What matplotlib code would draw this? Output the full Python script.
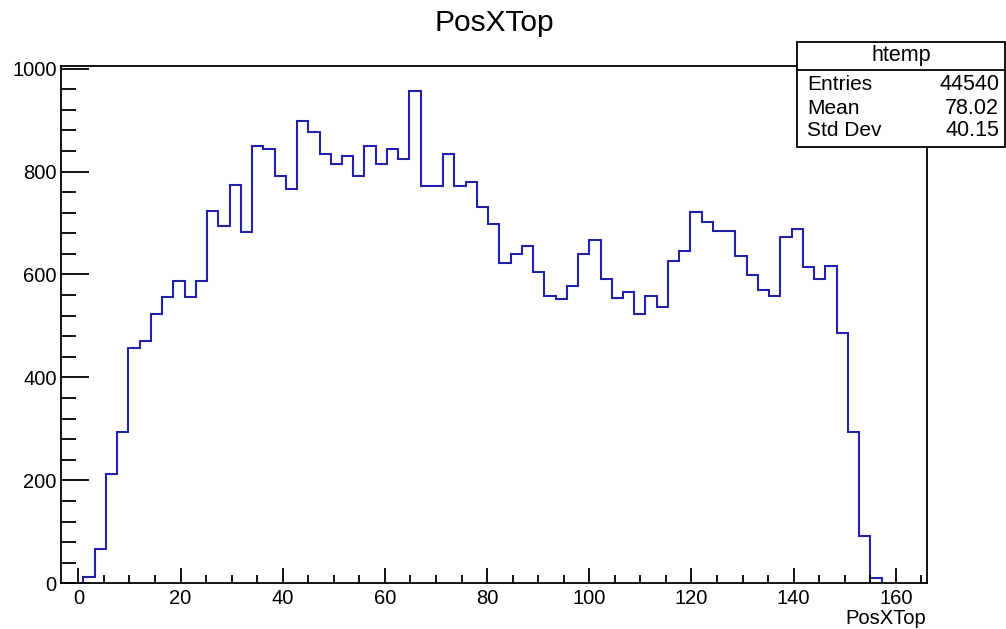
import numpy as np
import matplotlib
matplotlib.use("Agg")
import matplotlib.pyplot as plt
from matplotlib.patches import Rectangle
from matplotlib.lines import Line2D
from matplotlib.ticker import MultipleLocator

plt.rcParams['font.family'] = ['Liberation Sans', 'DejaVu Sans']

# ---- data ----
title = "PosXTop"
x_label = "PosXTop"
axis_min = -3.4
bin_width = 2.2
first_bin_index = 2
counts = [12, 67, 212, 293, 458, 471, 524, 556, 588, 556,
          588, 723, 694, 773, 682, 850, 844, 792, 766, 899,
          877, 834, 815, 831, 792, 850, 815, 844, 824, 957,
          772, 772, 834, 772, 780, 731, 698, 623, 640, 656,
          605, 559, 552, 578, 640, 666, 591, 555, 565, 523,
          559, 536, 627, 646, 721, 701, 685, 685, 636, 598,
          569, 559, 672, 688, 614, 591, 617, 487, 293, 92, 11]
n_total_bins = 77
stats_name = "htemp"
stats_labels = ["Entries", "Mean", "Std Dev"]
stats_values = ["44540", "78.02", "40.15"]
x_ticks = [0, 20, 40, 60, 80, 100, 120, 140, 160]
y_ticks = [0, 200, 400, 600, 800, 1000]

# ---- figure ----
W, H = 1006, 629
fig = plt.figure(figsize=(W / 100, H / 100), dpi=100)

def fx(px):
    return px / W

def fy(py):
    return 1 - py / H

left, right, top, bottom = 61, 926.5, 66, 583.3
ax = fig.add_axes([fx(left), fy(bottom), fx(right) - fx(left), fy(top) - fy(bottom)])

edges_all = axis_min + bin_width * np.arange(n_total_bins + 1)
edges = edges_all[first_bin_index:first_bin_index + len(counts) + 1]
ax.stairs(counts, edges, color='#2020aa', linewidth=1.5, baseline=0)

ax.set_xlim(edges_all[0], edges_all[-1])
ax.set_ylim(0, 1005)

ax.set_xticks(x_ticks)
ax.set_yticks(y_ticks)
ax.xaxis.set_minor_locator(MultipleLocator(5))
ax.yaxis.set_minor_locator(MultipleLocator(40))
ax.tick_params(axis='x', which='major', direction='in', length=11, width=1.3, labelsize=14.5, pad=4)
ax.tick_params(axis='x', which='minor', direction='in', length=5.5, width=1.3)
ax.tick_params(axis='y', which='major', direction='in', length=20, width=1.3, labelsize=14.5, pad=3)
ax.tick_params(axis='y', which='minor', direction='in', length=10.5, width=1.3)
for sp in ax.spines.values():
    sp.set_linewidth(1.3)
    sp.set_color('black')

fig.text(fx(926), fy(618), x_label, ha='right', va='center', fontsize=14.5)
fig.text(fx(494), fy(23), title, ha='center', va='center', fontsize=21.5)

# ---- stats box ----
bx0, bx1, by0, by1 = 797, 1004.5, 42, 147
box = Rectangle((fx(bx0), fy(by1)), fx(bx1) - fx(bx0), fy(by0) - fy(by1),
                transform=fig.transFigure, facecolor='white', edgecolor='black',
                linewidth=1.3, zorder=10)
fig.add_artist(box)
fig.add_artist(Line2D([fx(bx0), fx(bx1)], [fy(69.5), fy(69.5)], transform=fig.transFigure,
                      color='black', linewidth=1.3, zorder=11))
fig.text(fx(901), fy(56), stats_name, ha='center', va='center', fontsize=15.5, zorder=12)
row_y = [84.5, 108, 130]
for lab, val, yy in zip(stats_labels, stats_values, row_y):
    fig.text(fx(807), fy(yy), lab, ha='left', va='center', fontsize=15, zorder=12)
    fig.text(fx(999), fy(yy), val, ha='right', va='center', fontsize=15.5, zorder=12)

fig.savefig("out.png", dpi=100)
